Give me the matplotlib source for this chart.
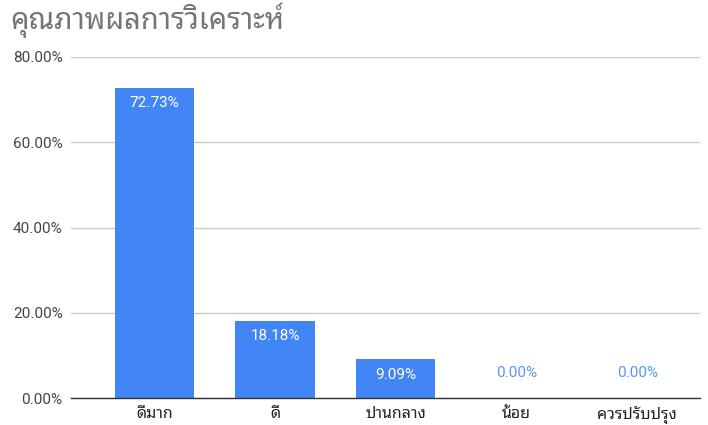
import matplotlib
matplotlib.use("Agg")
import matplotlib.pyplot as plt

categories = ["ดีมาก", "ดี", "ปานกลาง", "น้อย", "ควรปรับปรุง"]
values = [72.73, 18.18, 9.09, 0.00, 0.00]
yticks = [0, 20, 40, 60, 80]
title = "คุณภาพผลการวิเคราะห์"

FONTS = ["Roboto", "Noto Sans Thai Looped", "DejaVu Sans"]
THAI = ["Noto Sans Thai Looped", "DejaVu Sans"]
plt.rcParams["font.family"] = FONTS

BLUE = "#4285F4"
fig = plt.figure(figsize=(7.08, 4.25), dpi=100)
ax = fig.add_axes([71/708, 1-398/425, (700-71)/708, (398-57)/425])

x = list(range(len(categories)))
ax.bar(x, values, width=0.655, color=BLUE, zorder=3)
ax.set_xlim(-0.69, 4.52)
ax.set_ylim(0, 80)

ax.set_yticks(yticks)
ax.set_yticklabels(["%.2f%%" % v for v in yticks], color="#444444", fontsize=11)
ax.set_xticks(x)
ax.set_xticklabels(categories, color="#222222", fontsize=11.5, family=THAI)
ax.tick_params(axis="both", length=0)
ax.tick_params(axis="y", pad=6)
ax.tick_params(axis="x", pad=6)

ax.grid(axis="y", color="#cccccc", linewidth=1, zorder=0)
for s in ["top", "right", "left"]:
    ax.spines[s].set_visible(False)
ax.spines["bottom"].set_color("#333333")
ax.spines["bottom"].set_linewidth(1)
ax.spines["bottom"].set_zorder(4)

for xi, v in zip(x, values):
    lab = "%.2f%%" % v
    if v > 3:
        ax.annotate(lab, (xi, v), xytext=(0, -11), textcoords="offset points",
                    ha="center", va="center", color="white", fontsize=11, zorder=5)
    else:
        ax.annotate(lab, (xi, v), xytext=(0, 18), textcoords="offset points",
                    ha="center", va="center", color="#5a96f6", fontsize=11, zorder=5)

fig.text(10/708, 1-20/425, title, fontsize=21, color="#757575", va="center", ha="left",
         family=THAI)

fig.savefig("out.png", dpi=100)
